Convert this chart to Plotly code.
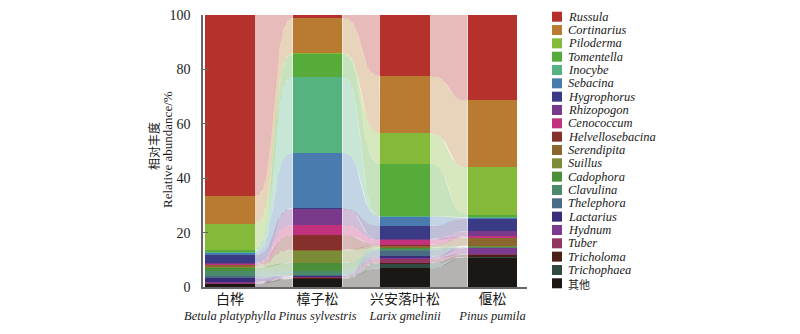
import numpy as np
import plotly.graph_objects as go

# Forest types (Chinese name + Latin name)
sites_cn = ["白桦", "樟子松", "兴安落叶松", "偃松"]
sites_latin = ["Betula platyphylla", "Pinus sylvestris", "Larix gmelinii", "Pinus pumila"]

# Genera, from the top of each stack to the bottom
genera = ["Russula", "Cortinarius", "Piloderma", "Tomentella", "Inocybe", "Sebacina",
          "Hygrophorus", "Rhizopogon", "Cenococcum", "Helvellosebacina", "Serendipita",
          "Suillus", "Cadophora", "Clavulina", "Thelephora", "Lactarius", "Hydnum",
          "Tuber", "Tricholoma", "Trichophaea", "其他"]

colors = ["#b5312b", "#b97a31", "#85b93a", "#56ab3b", "#57b282", "#4a7bae",
          "#3a3a85", "#7a3a8b", "#c2317b", "#86302b", "#8c6631", "#7b8b36",
          "#4b8f3b", "#4b8b6b", "#4a6b86", "#3b2b7b", "#7b3b90", "#903661",
          "#4b201b", "#2f4a40", "#1b1715"]

# Relative abundance (%) of each genus at the four sites
russula          = [66.7, 1.0, 22.4, 31.4]
cortinarius      = [10.0, 13.0, 21.1, 24.6]
piloderma        = [9.6, 0.3, 11.3, 17.4]
tomentella       = [0.5, 8.4, 19.1, 1.0]
inocybe          = [0.4, 28.0, 0.2, 0.2]
sebacina         = [1.0, 20.3, 3.4, 0.3]
hygrophorus      = [3.0, 0.2, 4.8, 4.6]
rhizopogon       = [0.3, 6.0, 0.4, 1.9]
cenococcum       = [0.2, 3.8, 1.8, 0.3]
helvellosebacina = [0.2, 5.3, 0.3, 0.2]
serendipita      = [0.6, 0.3, 0.6, 2.9]
suillus          = [0.4, 4.5, 0.2, 0.2]
cadophora        = [1.2, 2.9, 0.3, 0.2]
clavulina        = [1.9, 1.6, 0.6, 0.1]
thelephora       = [0.8, 0.3, 2.2, 0.1]
lactarius        = [1.2, 0.2, 0.3, 0.2]
hydnum           = [0.4, 0.2, 0.5, 2.2]
tuber            = [0.2, 0.2, 1.5, 0.2]
tricholoma       = [0.1, 0.3, 0.3, 0.9]
trichophaea      = [0.1, 0.2, 1.8, 0.1]
others           = [1.2, 3.0, 6.9, 11.0]

values = [russula, cortinarius, piloderma, tomentella, inocybe, sebacina,
          hygrophorus, rhizopogon, cenococcum, helvellosebacina, serendipita,
          suillus, cadophora, clavulina, thelephora, lactarius, hydnum,
          tuber, tricholoma, trichophaea, others]

y_ticks = [0, 20, 40, 60, 80, 100]

BAR_W = 0.57
RIBBON_ALPHA = 0.33
FONT = "Liberation Serif"

# plot-area geometry in pixels
PL, PR, PT, PB = 203, 527, 15, 287
PW, PH = PR - PL, PB - PT


def px_x(x):
    return (x - PL) / PW


def px_y(y):
    return (PB - y) / PH


def rgba(hex_color, a):
    h = hex_color.lstrip("#")
    r, g, b = int(h[0:2], 16), int(h[2:4], 16), int(h[4:6], 16)
    return f"rgba({r},{g},{b},{a})"


def ease(t, k=5.0):
    return 0.5 + 0.5 * np.tanh(k * (t - 0.5)) / np.tanh(k / 2)


n_sites = len(sites_cn)
x_pos = np.arange(n_sites)

# stacking from the bottom: "其他" first
order = list(range(len(genera)))[::-1]
vals = np.array(values, dtype=float)
lower = np.zeros_like(vals)
running = np.zeros(n_sites)
for k in order:
    lower[k] = running
    running = running + vals[k]
upper = lower + vals

fig = go.Figure()

# flowing ribbons between neighbouring stacks
t = np.linspace(0, 1, 60)
e = ease(t)
for g in range(n_sites - 1):
    x0 = x_pos[g] + BAR_W / 2
    x1 = x_pos[g + 1] - BAR_W / 2
    xs = x0 + (x1 - x0) * t
    for k in order:
        lo = lower[k, g] + (lower[k, g + 1] - lower[k, g]) * e
        hi = upper[k, g] + (upper[k, g + 1] - upper[k, g]) * e
        fig.add_trace(go.Scatter(
            x=np.concatenate([xs, xs[::-1]]),
            y=np.concatenate([lo, hi[::-1]]),
            fill="toself", fillcolor=rgba(colors[k], RIBBON_ALPHA),
            mode="lines", line=dict(width=0),
            hoverinfo="skip", showlegend=False))

# stacked bars
for k in order:
    fig.add_trace(go.Bar(
        x=x_pos, y=vals[k], width=BAR_W, name=genera[k],
        marker=dict(color=colors[k], line=dict(width=0)),
        showlegend=False))

# legend drawn as swatches + labels
shapes = []
annotations = []
row0, row_h = 16.7, 13.33
for i, name in enumerate(genera):
    yc = row0 + row_h * i
    shapes.append(dict(type="rect", xref="paper", yref="paper",
                       x0=px_x(552), x1=px_x(562),
                       y0=px_y(yc + 5), y1=px_y(yc - 5),
                       fillcolor=colors[i], line=dict(width=0)))
    if name == "其他":
        txt = name
        fnt = dict(family="Noto Sans CJK SC", size=11, color="#1a1a1a")
        ypos = yc + 1
    else:
        txt = f"<i>{name}</i>"
        fnt = dict(family=FONT, size=12.5, color="#1a1a1a")
        ypos = yc
    annotations.append(dict(xref="paper", yref="paper",
                            x=px_x(567), y=px_y(ypos), borderpad=0,
                            xanchor="left", yanchor="middle", text=txt,
                            showarrow=False, font=fnt))

# y-axis title (two lines)
annotations.append(dict(xref="paper", yref="paper", x=px_x(153), y=px_y(146),
                        text="相对丰度", textangle=-90, showarrow=False,
                        xanchor="center", yanchor="middle",
                        font=dict(family="Noto Sans CJK SC", size=12, color="#1a1a1a")))
annotations.append(dict(xref="paper", yref="paper", x=px_x(167), y=px_y(150),
                        text="Relative abundance/%", textangle=-90, showarrow=False,
                        xanchor="center", yanchor="middle",
                        font=dict(family=FONT, size=13, color="#1a1a1a")))

ticktext = [f"<span style='font-size:14px'>{cn}</span><br><i>{la}</i>"
            for cn, la in zip(sites_cn, sites_latin)]

fig.update_layout(
    width=800, height=334,
    margin=dict(l=PL, r=800 - PR, t=PT, b=334 - PB, autoexpand=False),
    paper_bgcolor="white", plot_bgcolor="white",
    barmode="stack", bargap=0,
    shapes=shapes, annotations=annotations,
    font=dict(family=FONT, color="#1a1a1a"),
    xaxis=dict(range=[-0.3086, 3.394], tickvals=list(x_pos), ticktext=ticktext,
               tickangle=0, automargin=False,
               showline=True, linecolor="#666", linewidth=1.5, ticks="",
               showgrid=False, zeroline=False,
               tickfont=dict(family="Liberation Serif, Noto Sans CJK SC", size=12.5, color="#1a1a1a")),
    yaxis=dict(range=[0, 100], tickvals=y_ticks, showline=True, linecolor="#666",
               linewidth=1.5, ticks="inside", ticklen=5, tickcolor="#666",
               automargin=False,
               showgrid=False, zeroline=False, ticklabelstandoff=8,
               tickfont=dict(family=FONT, size=14, color="#1a1a1a")),
)

fig.write_html("out.html")
